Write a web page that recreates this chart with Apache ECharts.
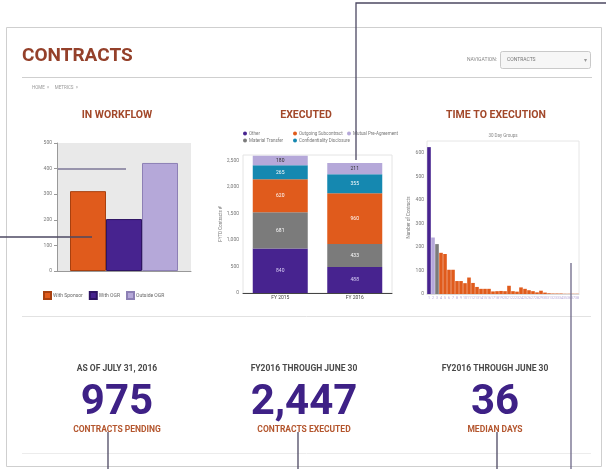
<!DOCTYPE html>
<html>
<head>
<meta charset="utf-8">
<script src="https://cdn.jsdelivr.net/npm/echarts@6/dist/echarts.min.js"></script>
<style>
  html, body { margin: 0; padding: 0; background: #fff; }
  #main { width: 606px; height: 469px; }
</style>
</head>
<body>
<div id="main"></div>
<script>
const workflowNames = ['With Sponsor', 'With OGR', 'Outside OGR']
const workflowValues = [312, 203, 422]

const executedYears = ['FY 2015', 'FY 2016']
const executedNames = ['Other', 'Material Transfer', 'Outgoing Subcontract', 'Confidentiality Disclosure', 'Mutual Pre-Agreement']
const executedValues = [
  [840, 488],
  [681, 433],
  [620, 960],
  [265, 355],
  [180, 211],
]

const timeGroups = ['1', '2', '3', '4', '5', '6', '7', '8', '9', '10', '11', '12', '13', '14', '15', '16', '17', '18', '19',
  '20', '21', '22', '23', '24', '25', '26', '27', '28', '29', '30', '31', '32', '33', '34', '35', '36', '37', '38']
const timeCounts = [624, 240, 212, 175, 170, 103, 103, 55, 55, 46, 70, 47, 30, 22, 22, 22, 11, 12, 13,
  12, 35, 12, 10, 28, 22, 16, 12, 7, 14, 6, 3, 2, 2, 2, 1, 1, 1, 1]

const kpiCaptions = ['AS OF JULY 31, 2016', 'FY2016 THROUGH JUNE 30', 'FY2016 THROUGH JUNE 30']
const kpiValues = ['975', '2,447', '36']
const kpiLabels = ['CONTRACTS PENDING', 'CONTRACTS EXECUTED', 'MEDIAN DAYS']

const ORANGE = '#e05b1c'
const PURPLE = '#47238f'
const LAVENDER = '#b5a8d9'
const GREY = '#7b7b7b'
const TEAL = '#1588b0'
const BROWN = '#a2482a'
const INK = '#4c4862'
const FONT = 'Roboto, "Liberation Sans", sans-serif'

const workflowColors = [ORANGE, PURPLE, LAVENDER]
const workflowBorders = ['#a8400f', '#2e1463', '#8d80b5']
const executedColors = [PURPLE, GREY, ORANGE, TEAL, LAVENDER]
const executedLegendSlots = [[243, 131], [243, 138], [293, 131], [293, 138], [347, 131]]

const chart = echarts.init(document.getElementById('main'), null, { renderer: 'canvas' })

const tiny = { fontSize: 5, color: '#777', fontFamily: FONT }

const text = (str, x, y, font, fill, align = 'left') => ({
  type: 'text', z: 50,
  style: { text: str, x, y, font, fill, textAlign: align, align, textVerticalAlign: 'middle', verticalAlign: 'middle' },
})
const line = (x1, y1, x2, y2, stroke = INK, lineWidth = 1.3, z = 100) => ({
  type: 'line', z, shape: { x1, y1, x2, y2 }, style: { stroke, lineWidth },
})

const kpiX = [117, 304, 495]
const graphic = [
  { type: 'rect', z: 0, shape: { x: 6.5, y: 27.5, width: 595, height: 439 }, style: { fill: 'none', stroke: '#cfcfcf', lineWidth: 1 } },
  text('CONTRACTS', 22, 56, `bold 19px ${FONT}`, '#94402a'),
  text('NAVIGATION:', 497, 60, `5px ${FONT}`, '#888', 'right'),
  { type: 'rect', z: 50, shape: { x: 500.5, y: 51.5, width: 90, height: 17, r: 2 }, style: { fill: '#f6f6f6', stroke: '#c9c9c9' } },
  text('CONTRACTS', 507, 60, `5px ${FONT}`, '#777'),
  text('▾', 585, 60, `6px ${FONT}`, '#999', 'center'),
  line(22, 77.5, 592, 77.5, '#cfcfcf', 1, 1),
  text('HOME  »     METRICS  »', 32, 88, `4.5px ${FONT}`, '#999'),
  text('IN WORKFLOW', 117, 115, `bold 10.5px ${FONT}`, BROWN, 'center'),
  text('EXECUTED', 306, 115, `bold 10.5px ${FONT}`, BROWN, 'center'),
  text('TIME TO EXECUTION', 496, 115, `bold 10.5px ${FONT}`, BROWN, 'center'),
  text('30 Day Groups', 503, 136, `4.5px ${FONT}`, '#888', 'center'),
  line(22, 316.5, 591, 316.5, '#e2e2e2', 1, 1),
  line(22, 453.5, 591, 453.5, '#ececec', 1, 1),
  // annotation leader lines
  { type: 'polyline', z: 100, shape: { points: [[606, 3], [356, 3], [356, 160]] }, style: { stroke: INK, lineWidth: 1.3, fill: 'none' } },
  line(0, 237, 92, 237),
  line(58, 169, 126, 169, '#7d7797', 1.3),
  line(571, 263, 571, 469, '#6d6888', 1.3),
  line(108, 432, 108, 469),
  line(298, 432, 298, 469),
  line(497, 432, 497, 469),
]
kpiX.forEach((x, i) => {
  graphic.push(text(kpiCaptions[i], x, 369, `bold 8.5px ${FONT}`, '#4a4a4a', 'center'))
  graphic.push(text(kpiValues[i], x, 403, `bold 42px ${FONT}`, '#3e2186', 'center'))
  graphic.push(text(kpiLabels[i], x, 430, `bold 8.5px ${FONT}`, '#b4562e', 'center'))
})

const option = {
  animation: false,
  graphic,
  legend: [
    {
      data: workflowNames, left: 38, top: 286, icon: 'rect', itemWidth: 7, itemHeight: 7, itemGap: 6,
      textStyle: { ...tiny, color: '#666', padding: [0, 0, 0, -3] },
    },
    ...executedNames.map((n, i) => ({
      data: [n], left: executedLegendSlots[i][0], top: executedLegendSlots[i][1], icon: 'circle',
      itemWidth: 4, itemHeight: 4, itemGap: 2, padding: 0,
      textStyle: { fontSize: 4.5, color: '#777', fontFamily: FONT, padding: [0, 0, 0, -3] },
    })),
  ],
  grid: [
    { left: 57, top: 143, width: 134, height: 128, show: true, backgroundColor: '#e9e9e9', borderWidth: 0 },
    { left: 243, top: 155, width: 149, height: 138, show: true, borderColor: '#e4e4e4', borderWidth: 1 },
    { left: 427, top: 141, width: 152, height: 153, show: true, borderColor: '#e6e6e6', borderWidth: 1 },
  ],
  xAxis: [
    {
      gridIndex: 0, type: 'category', data: [''],
      axisLine: { lineStyle: { color: '#999' } },
      axisTick: { alignWithLabel: true, length: 3, lineStyle: { color: '#999' } },
      axisLabel: { show: false },
    },
    {
      gridIndex: 1, type: 'category', data: executedYears,
      axisLine: { lineStyle: { color: '#444' } }, axisTick: { show: false },
      axisLabel: { fontSize: 5, color: '#444', fontFamily: FONT, margin: 2 },
    },
    {
      gridIndex: 2, type: 'category', data: timeGroups,
      axisLine: { lineStyle: { color: '#d8d8d8' } }, axisTick: { show: false },
      axisLabel: { interval: 0, fontSize: 3.5, color: '#b3a5d6', fontFamily: FONT, margin: 2 },
    },
  ],
  yAxis: [
    {
      gridIndex: 0, type: 'value', min: 0, max: 500, interval: 100,
      axisLine: { show: true, lineStyle: { color: '#999' } },
      axisTick: { show: true, length: 3, lineStyle: { color: '#999' } },
      axisLabel: { ...tiny, margin: 5 }, splitLine: { show: false },
    },
    {
      gridIndex: 1, type: 'value', min: 0, max: 2600, interval: 500,
      axisLabel: { ...tiny, margin: 4, showMaxLabel: false, formatter: v => v.toLocaleString('en-US') },
      axisLine: { show: false }, axisTick: { show: false }, splitLine: { show: false },
      name: 'FYTD Contracts #', nameLocation: 'middle', nameGap: 19,
      nameTextStyle: { fontSize: 4.5, color: '#777', fontFamily: FONT },
    },
    {
      gridIndex: 2, type: 'value', min: 0, max: 650, interval: 100,
      axisLabel: { ...tiny, margin: 3, showMaxLabel: false },
      axisLine: { show: false }, axisTick: { show: false }, splitLine: { show: false },
      name: 'Number of Contracts', nameLocation: 'middle', nameGap: 11,
      nameTextStyle: { fontSize: 4.5, color: '#777', fontFamily: FONT },
    },
  ],
  series: [
    ...workflowNames.map((n, i) => ({
      name: n, type: 'bar', xAxisIndex: 0, yAxisIndex: 0,
      data: [workflowValues[i]], barWidth: 36, barGap: '0%',
      itemStyle: { color: workflowColors[i], borderColor: workflowBorders[i], borderWidth: 1 },
    })),
    ...executedNames.map((n, i) => ({
      name: n, type: 'bar', stack: 'executed', xAxisIndex: 1, yAxisIndex: 1,
      data: executedValues[i], barWidth: 55,
      itemStyle: { color: executedColors[i] },
      label: {
        show: true, position: 'inside', fontSize: 5, fontFamily: FONT,
        color: i === 4 ? '#333' : (i === 0 ? '#d9cff5' : '#fff'),
      },
    })),
    {
      name: 'Time to Execution', type: 'bar', xAxisIndex: 2, yAxisIndex: 2,
      data: timeCounts, barCategoryGap: '10%',
      itemStyle: {
        color: p => (p.dataIndex === 0 ? PURPLE : p.dataIndex === 1 ? LAVENDER : p.dataIndex === 2 ? GREY : ORANGE),
      },
    },
  ],
}

chart.setOption(option)
</script>
</body>
</html>
